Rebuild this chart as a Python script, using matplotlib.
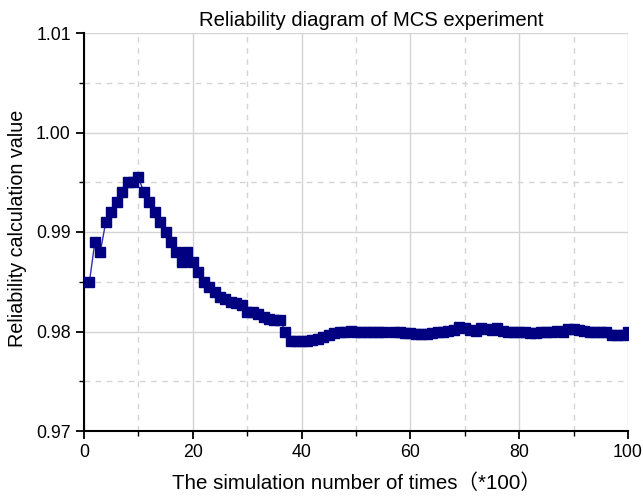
import numpy as np
import matplotlib
matplotlib.use("Agg")
import matplotlib.pyplot as plt
from matplotlib.ticker import MultipleLocator

plt.rcParams['font.family'] = ['Liberation Sans', 'Noto Sans CJK SC', 'DejaVu Sans']

sim_times = list(range(1, 101))
reliability = [
    0.9850, 0.9890, 0.9880, 0.9910, 0.9920, 0.9930, 0.9940, 0.9950, 0.9950, 0.9955,
    0.9940, 0.9930, 0.9920, 0.9910, 0.9900, 0.9890, 0.9880, 0.9870, 0.9880, 0.9870,
    0.9860, 0.9850, 0.9845, 0.9840, 0.9835, 0.9833, 0.9830, 0.9829, 0.9827, 0.9820,
    0.9820, 0.9818, 0.9815, 0.9813, 0.9812, 0.9812, 0.9800, 0.9790, 0.9790, 0.9790,
    0.9790, 0.9791, 0.9792, 0.9794, 0.9796, 0.9798, 0.9799, 0.9800, 0.9801, 0.9799,
    0.9800, 0.9800, 0.9800, 0.9800, 0.9799, np.nan, 0.9800, 0.9799, 0.9798, 0.9798,
    0.9797, 0.9797, 0.9797, 0.9798, 0.9799, 0.9800, 0.9801, 0.9802, 0.9805, 0.9804,
    0.9802, 0.9801, 0.9804, 0.9803, 0.9802, 0.9804, 0.9801, 0.9799, 0.9800, 0.9800,
    0.9799, 0.9798, 0.9798, 0.9799, 0.9800, 0.9800, 0.9801, 0.9800, 0.9803, 0.9803,
    0.9802, 0.9801, 0.9800, 0.9799, 0.9799, 0.9799, 0.9796, 0.9796, 0.9796, 0.9799,
]

title = "Reliability diagram of MCS experiment"
xlabel = "The simulation number of times（*100）"
ylabel = "Reliability calculation value"

fig = plt.figure(figsize=(6.43, 4.96), dpi=100)
ax = fig.add_axes([84/643, 65/496, 544/643, 398/496])

ax.plot(sim_times, reliability, color='#3030b0', lw=1.0, marker='s',
        markersize=6.6, markerfacecolor='#000080', markeredgecolor='#000080', zorder=3)

ax.set_xlim(0, 100)
ax.set_ylim(0.97, 1.01)
ax.xaxis.set_major_locator(MultipleLocator(20))
ax.xaxis.set_minor_locator(MultipleLocator(10))
ax.yaxis.set_major_locator(MultipleLocator(0.01))
ax.yaxis.set_minor_locator(MultipleLocator(0.005))
ax.set_yticklabels([f"{v:.2f}" for v in ax.get_yticks()])

ax.grid(which='major', color='#d4d4d4', lw=1.0, ls='-', zorder=0)
ax.grid(which='minor', color='#d4d4d4', lw=1.0, ls=(0, (4, 4)), zorder=0)

for s in ['top', 'right']:
    ax.spines[s].set_visible(False)
for s in ['left', 'bottom']:
    ax.spines[s].set_linewidth(1.5)
    ax.spines[s].set_color('black')

ax.tick_params(which='major', direction='out', length=6, width=1.3, labelsize=12.8, colors='black')
ax.tick_params(which='minor', direction='out', length=3.5, width=1.0)

ax.set_xlabel(xlabel, fontsize=14.8, labelpad=9)
ax.set_ylabel(ylabel, fontsize=14.2)
ax.yaxis.set_label_coords((27 - 84) / 544, (431 - 228) / 398)
fig.text(371/643, 1 - 20/496, title, ha='center', va='center', fontsize=14.6)

fig.savefig("out.png", dpi=100)
